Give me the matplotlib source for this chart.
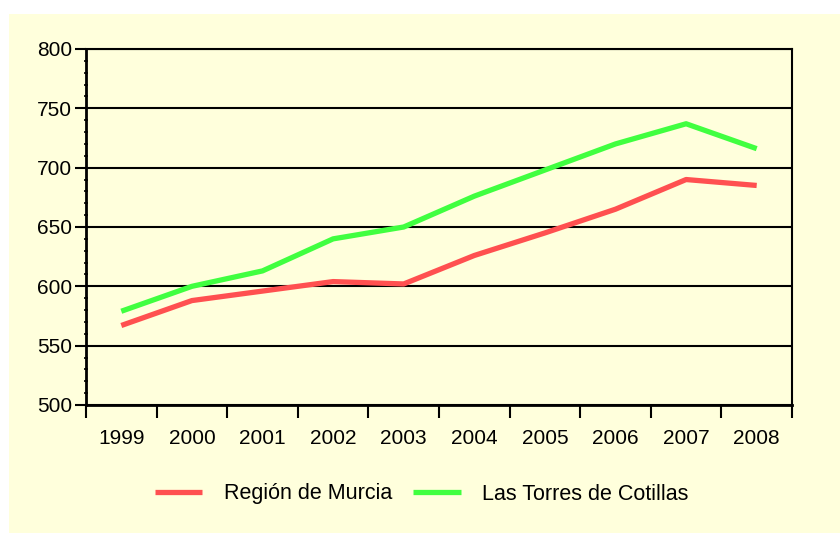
import numpy as np
import matplotlib.pyplot as plt
from matplotlib.patches import Rectangle

plt.rcParams['font.family'] = ['Liberation Sans', 'DejaVu Sans']

years = ['1999', '2000', '2001', '2002', '2003', '2004', '2005', '2006', '2007', '2008']
murcia = [567, 588, 596, 604, 602, 626, 645, 665, 690, 685]
torres = [579, 600, 613, 640, 650, 676, 698, 720, 737, 716]

bg = '#FFFFDC'
fig = plt.figure(figsize=(8.4, 5.33), dpi=100)
fig.patches.append(Rectangle((9 / 840, 0), 1, 1 - 14 / 533, transform=fig.transFigure,
                             facecolor=bg, edgecolor='none', zorder=-10))
ax = fig.add_axes([86 / 840, 1 - 405 / 533, 706 / 840, 356 / 533])
ax.set_facecolor(bg)

x = np.arange(len(years))
ax.plot(x, murcia, color='#FF5050', lw=3.8, label='Región de Murcia', solid_capstyle='butt')
ax.plot(x, torres, color='#40FF40', lw=3.8, label='Las Torres de Cotillas', solid_capstyle='butt')

ax.set_xlim(-0.5, len(years) - 0.5)
ax.set_ylim(500, 800)
ax.set_yticks(np.arange(500, 801, 50))
ax.set_yticks(np.arange(500, 801, 10), minor=True)
ax.yaxis.grid(True, color='black', lw=1.5)
ax.set_axisbelow(True)

ax.set_xticks(np.arange(-0.5, len(years), 1))
ax.set_xticklabels([])
ax.set_xticks(x, minor=True)
ax.set_xticklabels(years, minor=True)
ax.tick_params(axis='x', which='major', length=9, width=1.5, direction='out')
ax.tick_params(axis='x', which='minor', length=0, pad=17, labelsize=15)
ax.tick_params(axis='y', which='major', length=8, width=1.5, direction='out', labelsize=15, pad=2)
ax.tick_params(axis='y', which='minor', length=3, width=1.2, direction='inout')

for side in ['left', 'bottom']:
    ax.spines[side].set_linewidth(2)
for side in ['top', 'right']:
    ax.spines[side].set_linewidth(1.5)

fig.legend(loc='center', bbox_to_anchor=(0.502, 1 - 494 / 533), ncol=2, frameon=False,
           fontsize=15.5, handlelength=2.2, columnspacing=1.0, handletextpad=1.0)

fig.savefig('out.png', dpi=100)
